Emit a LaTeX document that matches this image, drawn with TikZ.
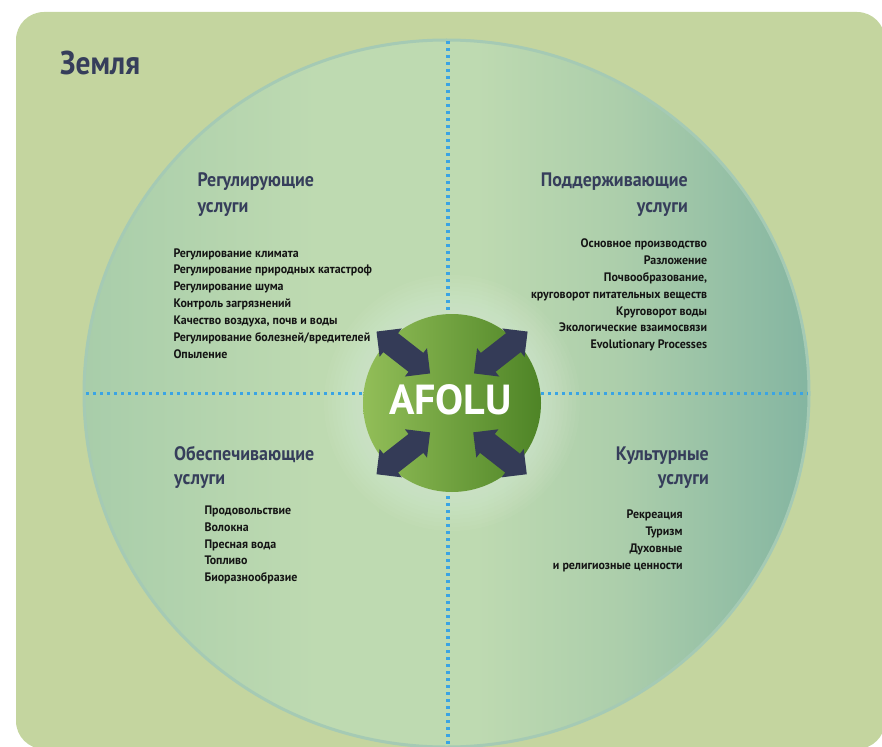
\documentclass[tikz,border=0pt]{standalone}
\usepackage{fontspec}
\setmainfont{PT Sans}
\newfontfamily\condfont[FakeStretch=0.92]{PT Sans}
\newfontfamily\itemfont[FakeStretch=0.97]{PT Sans}
\newfontfamily\titlefont[FakeStretch=0.89]{PT Sans}
\usetikzlibrary{positioning}
\definecolor{landgreen}{RGB}{196,213,159}
\definecolor{earthleft}{RGB}{168,205,170}
\definecolor{earthmid}{RGB}{190,218,177}
\definecolor{earthsoft}{RGB}{172,206,171}
\definecolor{earthright}{RGB}{132,181,161}
\definecolor{earthrim}{RGB}{165,202,180}
\definecolor{afolulight}{RGB}{146,190,88}
\definecolor{afoludark}{RGB}{78,132,38}
\definecolor{arrowblue}{RGB}{52,59,87}
\definecolor{titleblue}{RGB}{54,62,91}
\definecolor{dotblue}{RGB}{58,164,228}
\pgfdeclarehorizontalshading{earthshade}{100bp}{color(0bp)=(earthleft); color(25bp)=(earthleft); color(41bp)=(earthmid); color(52bp)=(earthmid); color(62bp)=(earthsoft); color(75bp)=(earthright); color(100bp)=(earthright)}
\tikzset{heading/.style={font=\condfont\bfseries\fontsize{19.5}{#1}\selectfont,text=titleblue,inner sep=0pt},
  heading/.default=26,
  item/.style={font=\itemfont\bfseries\fontsize{12.3}{16.9}\selectfont,text=black!92,inner sep=0pt},
  dotline/.style={dotblue,line width=3.4pt,dash pattern=on 3.4pt off 3.6pt},
  pics/duoarrow/.style={code={
    \fill[arrowblue] (34,0) -- (16,18) -- (16,12) -- (-16,12) -- (-16,18) -- (-34,0)
      -- (-16,-18) -- (-16,-12) -- (16,-12) -- (16,-18) -- cycle;}}}
\begin{document}
\begin{tikzpicture}[x=1pt,y=-1pt]
  \useasboundingbox (0,0) rectangle (882,746);
  % land and earth
  \fill[landgreen,rounded corners=28pt] (16,12) rectangle (885,749);
  \fill[shading=earthshade] (446.5,393.5) ellipse[x radius=362.5,y radius=353.5];
  \draw[earthrim,line width=3pt] (446.5,393.5) ellipse[x radius=362.5,y radius=353.5];
  % glow
  \foreach \r in {92,96,...,128}
    \fill[white,opacity=0.03] (452,403) circle[radius=\r];
  \draw[dotline] (448,41) -- (448,746);
  \draw[dotline] (86,393.5) -- (808,393.5);
  % centre
  \node[circle,minimum size=178pt,inner sep=0pt,left color=afolulight,right color=afoludark] (afolu) at (452,403) {};
  \node[text=white,inner sep=0pt,font=\bfseries\fontsize{42}{42}\selectfont] (afolulabel) at (450.5,400) {AFOLU};
  \pic[rotate=142] at (403.3,352.5) {duoarrow};
  \pic[rotate=38] at (500.8,352.5) {duoarrow};
  \pic[rotate=218] at (403.3,453.3) {duoarrow};
  \pic[rotate=-38] at (500,453.3) {duoarrow};
  % texts
  \node[anchor=base west,inner sep=0pt,text=titleblue,font=\titlefont\bfseries\fontsize{33}{33}\selectfont] (earth) at (60,75) {Земля};
  \node[heading,anchor=north west,align=left] (regtitle) at (197.3,172.3) {Регулирующие\\услуги};
  \node[item,anchor=north west,align=left] (regitems) at (173.3,248.1) {Регулирование климата\\Регулирование природных катастроф\\Регулирование шума\\Контроль загрязнений\\Качество воздуха, почв и воды\\Регулирование болезней/вредителей\\Опыление};
  \node[heading,anchor=north east,align=right] (suptitle) at (688,172.3) {Поддерживающие\\услуги};
  \node[item,anchor=north east,align=right] (supitems) at (707.3,238.5) {Основное производство\\Разложение\\Почвообразование,\\круговорот питательных веществ\\Круговорот воды\\Экологические взаимосвязи\\Evolutionary Processes};
  \node[heading=24,anchor=north west,align=left] (provtitle) at (174,446.4) {Обеспечивающие\\услуги};
  \node[item,anchor=north west,align=left] (provitems) at (204.3,505.4) {Продовольствие\\Волокна\\Пресная вода\\Топливо\\Биоразнообразие};
  \node[heading=24,anchor=north east,align=right] (culttitle) at (709,447) {Культурные\\услуги};
  \node[item,anchor=north east,align=right] (cultitems) at (682.7,509.7) {Рекреация\\Туризм\\Духовные\\и религиозные ценности};
\end{tikzpicture}
\end{document}
